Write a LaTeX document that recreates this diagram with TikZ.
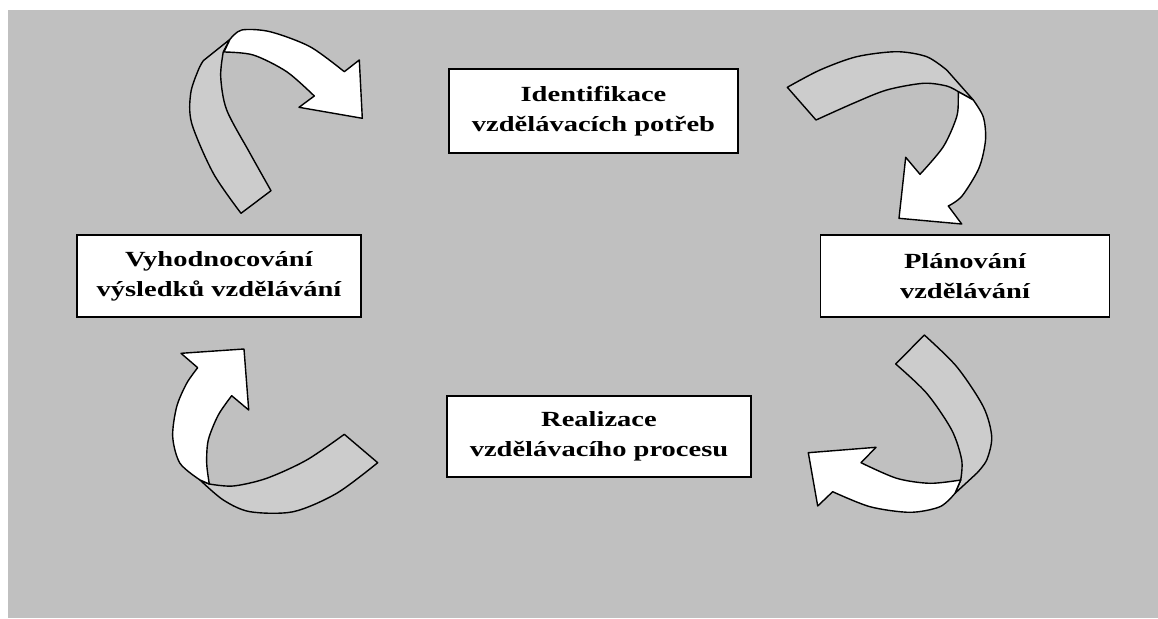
\documentclass[tikz,border=0pt]{standalone}
\usepackage{fontspec}
\setmainfont{Liberation Serif}
\newfontfamily\boxfont{Liberation Serif}[FakeStretch=1.32]
\definecolor{bg}{HTML}{C0C0C0}
\definecolor{rib}{HTML}{CCCCCC}
\tikzset{
  stagebox/.style={draw, line width=1.6pt, fill=white, align=center, inner sep=0pt,
    font=\boxfont\bfseries\fontsize{21.6}{30}\selectfont},
  ribbon/.style={draw, line width=1.4pt, line join=round},
}
\begin{document}
\begin{tikzpicture}[x=1pt,y=-1pt]
\useasboundingbox (0,0) rectangle (1158,618);
\fill[white] (0,0) rectangle (1158,618);
\fill[bg] (8,10) rectangle (1158,618);

\node[stagebox, minimum width=289pt, minimum height=84pt] (ident) at (593.5,111) {Identifikace\\vzdělávacích potřeb};
\node[stagebox, minimum width=289pt, minimum height=82pt] (plan) at (965,276) {Plánování\\vzdělávání};
\node[stagebox, minimum width=304pt, minimum height=81pt] (real) at (599,436.5) {Realizace\\vzdělávacího procesu};
\node[stagebox, minimum width=284pt, minimum height=82pt] (vyhod) at (219,276) {Vyhodnocování\\výsledků vzdělávání};

% arrow 1 (top-left)
\path[ribbon, fill=rib] plot[smooth] coordinates {(241,213.3) (213.3,173.3) (191.7,123.3) (190.7,93.3) (198.3,70) (203.3,60.7)}
  -- (230,39.3) -- (223.3,51.7)
  -- plot[smooth] coordinates {(223.3,51.7) (220.7,76.7) (226.7,110) (250,153.3) (271,190.7)} -- cycle;
\path[ribbon, fill=white] (224,52) -- (230,39.3)
  -- plot[smooth] coordinates {(230,39.3) (241.7,30) (270,31.7) (310,46.7) (344.3,71.7)}
  -- (359.3,60) -- (362.3,118.3) -- (299,107.3) -- (314.3,96)
  -- plot[smooth] coordinates {(314.3,96) (286.7,71.7) (253.3,55) (224,52)} -- cycle;

% arrow 2 (top-right)
\path[ribbon, fill=rib] plot[smooth] coordinates {(787.3,87.3) (820,70) (856.7,56.7) (896.7,51.7) (926.7,56.7) (946.7,70)}
  -- (973.3,100) -- (958.3,91.7)
  -- plot[smooth] coordinates {(958.3,91.7) (946.7,86) (923.3,83.3) (886.7,90) (853.3,103.3) (816,120)} -- cycle;
\path[ribbon, fill=white] (958.3,91.7) -- (973.3,100)
  -- plot[smooth] coordinates {(973.3,100) (983.3,117) (985.5,140) (979,168) (962,196) (948.3,206)}
  -- (961.7,224) -- (899,218.3) -- (905.7,157.3) -- (920,174.3)
  -- plot[smooth] coordinates {(920,174.3) (943.3,146.7) (956.7,116.7) (958.3,96.7) (958.3,91.7)} -- cycle;

% arrow 3 (bottom-right)
\path[ribbon, fill=rib] plot[smooth] coordinates {(924.3,335) (956.7,366.7) (983.3,406.7) (991.7,436.7) (986.7,460) (976.7,473.3)}
  -- (955,493.3) -- (960.7,480)
  -- plot[smooth] coordinates {(960.7,480) (961.7,460) (951.7,430) (926.7,393.3) (895.7,364)} -- cycle;
\path[ribbon, fill=white] (960.7,480) -- (955,493.3)
  -- plot[smooth] coordinates {(955,493.3) (940,506.7) (910,512.3) (870,506.7) (832.7,491.7)}
  -- (817.7,506) -- (808.3,452.7) -- (876,447.3) -- (861,462.7)
  -- plot[smooth] coordinates {(861,462.7) (896.7,478.3) (930,483.3) (960.7,480)} -- cycle;

% arrow 4 (bottom-left)
\path[ribbon, fill=rib] plot[smooth] coordinates {(344.3,434.3) (306.7,460) (266.7,478.3) (233.3,486) (209.3,484)}
  -- (200,480)
  -- plot[smooth] coordinates {(200,480) (223.3,500) (250,511.7) (293.3,511.7) (336.7,493.3) (377.7,462.7)} -- cycle;
\path[ribbon, fill=white] (209.3,484) -- (200,480)
  -- plot[smooth] coordinates {(200,480) (180,463.3) (172.7,436.7) (176.7,406.7) (186.7,383.3) (197.7,367.7)}
  -- (181,353.3) -- (244,349) -- (248.7,410) -- (231.7,395.7)
  -- plot[smooth] coordinates {(231.7,395.7) (218.3,415) (208.3,440) (206.7,463.3) (209.3,484)} -- cycle;
\end{tikzpicture}
\end{document}
